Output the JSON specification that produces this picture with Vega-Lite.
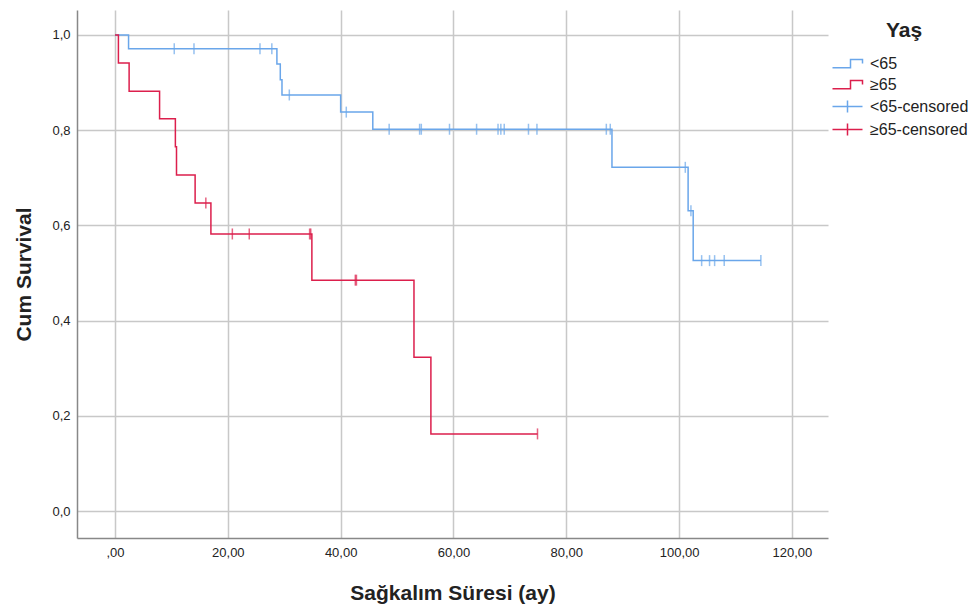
{
  "$schema": "https://vega.github.io/schema/vega-lite/v6.json",
  "autosize": "none",
  "width": 751,
  "height": 528,
  "padding": {"left": 77, "top": 10, "right": 151, "bottom": 74},
  "background": "white",
  "config": {
    "view": {"stroke": null},
    "font": "Liberation Sans",
    "axis": {
      "gridColor": "#c8c8c8",
      "gridWidth": 1.5,
      "domainColor": "#888888",
      "domainWidth": 1.5,
      "ticks": false,
      "labelFont": "Liberation Sans",
      "labelFontSize": 13,
      "labelColor": "#222222",
      "titleFont": "Liberation Sans",
      "titleFontSize": 21,
      "titleFontWeight": "bold",
      "titleColor": "#222222"
    }
  },
  "resolve": {"legend": {"color": "independent", "shape": "independent"}},
  "datasets": {
    "curves": [
      {"series": "<65", "t": 0, "s": 1.0},
      {"series": "<65", "t": 2.4, "s": 0.971},
      {"series": "<65", "t": 28.7, "s": 0.939},
      {"series": "<65", "t": 29.3, "s": 0.906},
      {"series": "<65", "t": 29.6, "s": 0.874},
      {"series": "<65", "t": 40.0, "s": 0.838},
      {"series": "<65", "t": 45.7, "s": 0.802},
      {"series": "<65", "t": 88.1, "s": 0.722},
      {"series": "<65", "t": 101.6, "s": 0.631},
      {"series": "<65", "t": 102.5, "s": 0.526},
      {"series": "<65", "t": 114.5, "s": 0.526},
      {"series": "≥65", "t": 0, "s": 1.0},
      {"series": "≥65", "t": 0.6, "s": 0.941},
      {"series": "≥65", "t": 2.5, "s": 0.882},
      {"series": "≥65", "t": 7.9, "s": 0.824},
      {"series": "≥65", "t": 10.7, "s": 0.765},
      {"series": "≥65", "t": 10.9, "s": 0.706},
      {"series": "≥65", "t": 14.2, "s": 0.647},
      {"series": "≥65", "t": 17.0, "s": 0.582},
      {"series": "≥65", "t": 34.9, "s": 0.485},
      {"series": "≥65", "t": 53.0, "s": 0.323},
      {"series": "≥65", "t": 56.0, "s": 0.162},
      {"series": "≥65", "t": 74.9, "s": 0.162}
    ],
    "censored": [
      {"series": "<65-censored", "t": 10.5, "s": 0.971},
      {"series": "<65-censored", "t": 14.0, "s": 0.971},
      {"series": "<65-censored", "t": 25.7, "s": 0.971},
      {"series": "<65-censored", "t": 27.8, "s": 0.971},
      {"series": "<65-censored", "t": 30.9, "s": 0.874},
      {"series": "<65-censored", "t": 41.0, "s": 0.838},
      {"series": "<65-censored", "t": 48.6, "s": 0.802},
      {"series": "<65-censored", "t": 54.0, "s": 0.802},
      {"series": "<65-censored", "t": 54.3, "s": 0.802},
      {"series": "<65-censored", "t": 59.3, "s": 0.802},
      {"series": "<65-censored", "t": 64.1, "s": 0.802},
      {"series": "<65-censored", "t": 67.9, "s": 0.802},
      {"series": "<65-censored", "t": 68.4, "s": 0.802},
      {"series": "<65-censored", "t": 69.0, "s": 0.802},
      {"series": "<65-censored", "t": 73.3, "s": 0.802},
      {"series": "<65-censored", "t": 74.8, "s": 0.802},
      {"series": "<65-censored", "t": 87.1, "s": 0.802},
      {"series": "<65-censored", "t": 87.8, "s": 0.802},
      {"series": "<65-censored", "t": 101.1, "s": 0.722},
      {"series": "<65-censored", "t": 102.1, "s": 0.631},
      {"series": "<65-censored", "t": 104.0, "s": 0.526},
      {"series": "<65-censored", "t": 105.4, "s": 0.526},
      {"series": "<65-censored", "t": 106.3, "s": 0.526},
      {"series": "<65-censored", "t": 108.0, "s": 0.526},
      {"series": "<65-censored", "t": 114.5, "s": 0.526},
      {"series": "≥65-censored", "t": 16.1, "s": 0.647},
      {"series": "≥65-censored", "t": 20.8, "s": 0.582},
      {"series": "≥65-censored", "t": 23.8, "s": 0.582},
      {"series": "≥65-censored", "t": 34.5, "s": 0.582},
      {"series": "≥65-censored", "t": 34.7, "s": 0.582},
      {"series": "≥65-censored", "t": 42.6, "s": 0.485},
      {"series": "≥65-censored", "t": 42.8, "s": 0.485},
      {"series": "≥65-censored", "t": 74.9, "s": 0.162}
    ]
  },
  "encoding": {
    "x": {
      "field": "t", "type": "quantitative",
      "scale": {"domain": [-6.74, 126.4], "nice": false, "zero": false},
      "axis": {
        "values": [0, 20, 40, 60, 80, 100, 120],
        "labelExpr": "datum.value == 0 ? ',00' : replace(format(datum.value, '.2f'), '.', ',')",
        "labelPadding": 8,
        "title": "Sağkalım Süresi (ay)",
        "titlePadding": 23
      }
    },
    "y": {
      "field": "s", "type": "quantitative",
      "scale": {"domain": [-0.0567, 1.0525], "nice": false, "zero": false},
      "axis": {
        "values": [0, 0.2, 0.4, 0.6, 0.8, 1.0],
        "labelExpr": "replace(format(datum.value, '.1f'), '.', ',')",
        "labelPadding": 7,
        "title": "Cum Survival",
        "titlePadding": 17
      }
    }
  },
  "layer": [
    {
      "data": {"name": "curves"},
      "mark": {"type": "line", "interpolate": "step-after", "strokeWidth": 1.5},
      "encoding": {
        "color": {"field": "series", "type": "nominal", "legend": null}
      }
    },
    {
      "data": {"name": "censored"},
      "mark": {"type": "tick", "orient": "vertical", "size": 11, "thickness": 1.5},
      "encoding": {
        "color": {"field": "series", "type": "nominal", "legend": null}
      }
    },
    {
      "data": {"name": "censored"},
      "mark": {"type": "point", "filled": false, "opacity": 0, "size": 225},
      "encoding": {
        "color": {
          "field": "series", "type": "nominal",
          "scale": {
            "domain": ["<65", "≥65", "<65-censored", "≥65-censored"],
            "range": ["#6aa6ea", "#dc1f4c", "#6aa6ea", "#dc1f4c"]
          },
          "legend": {
            "orient": "none", "legendX": 762, "legendY": 10,
            "title": "Yaş", "titleFontSize": 21, "titleFontWeight": "bold",
            "titleFont": "Liberation Sans", "titleColor": "#222222",
            "titleAnchor": "middle", "titlePadding": 14,
            "labelFont": "Liberation Sans", "labelFontSize": 16, "labelColor": "#222222",
            "symbolOpacity": 1, "symbolSize": 225, "symbolStrokeWidth": 1.5,
            "symbolFillColor": "transparent", "rowPadding": 4, "labelOffset": 14
          }
        },
        "shape": {
          "field": "series", "type": "nominal",
          "scale": {
            "domain": ["<65", "≥65", "<65-censored", "≥65-censored"],
            "range": [
              "M-2,0.55H0.4V-0.55H2V0",
              "M-2,0.55H0.4V-0.55H2V0",
              "M-2,0H2M0,-0.8V0.8",
              "M-2,0H2M0,-0.8V0.8"
            ]
          },
          "legend": {
            "orient": "none", "legendX": 762, "legendY": 10,
            "title": "Yaş", "titleFontSize": 21, "titleFontWeight": "bold",
            "titleFont": "Liberation Sans", "titleColor": "#222222",
            "titleAnchor": "middle", "titlePadding": 14,
            "labelFont": "Liberation Sans", "labelFontSize": 16, "labelColor": "#222222",
            "symbolOpacity": 1, "symbolSize": 225, "symbolStrokeWidth": 1.5,
            "symbolFillColor": "transparent", "rowPadding": 4, "labelOffset": 14
          }
        }
      }
    }
  ]
}
